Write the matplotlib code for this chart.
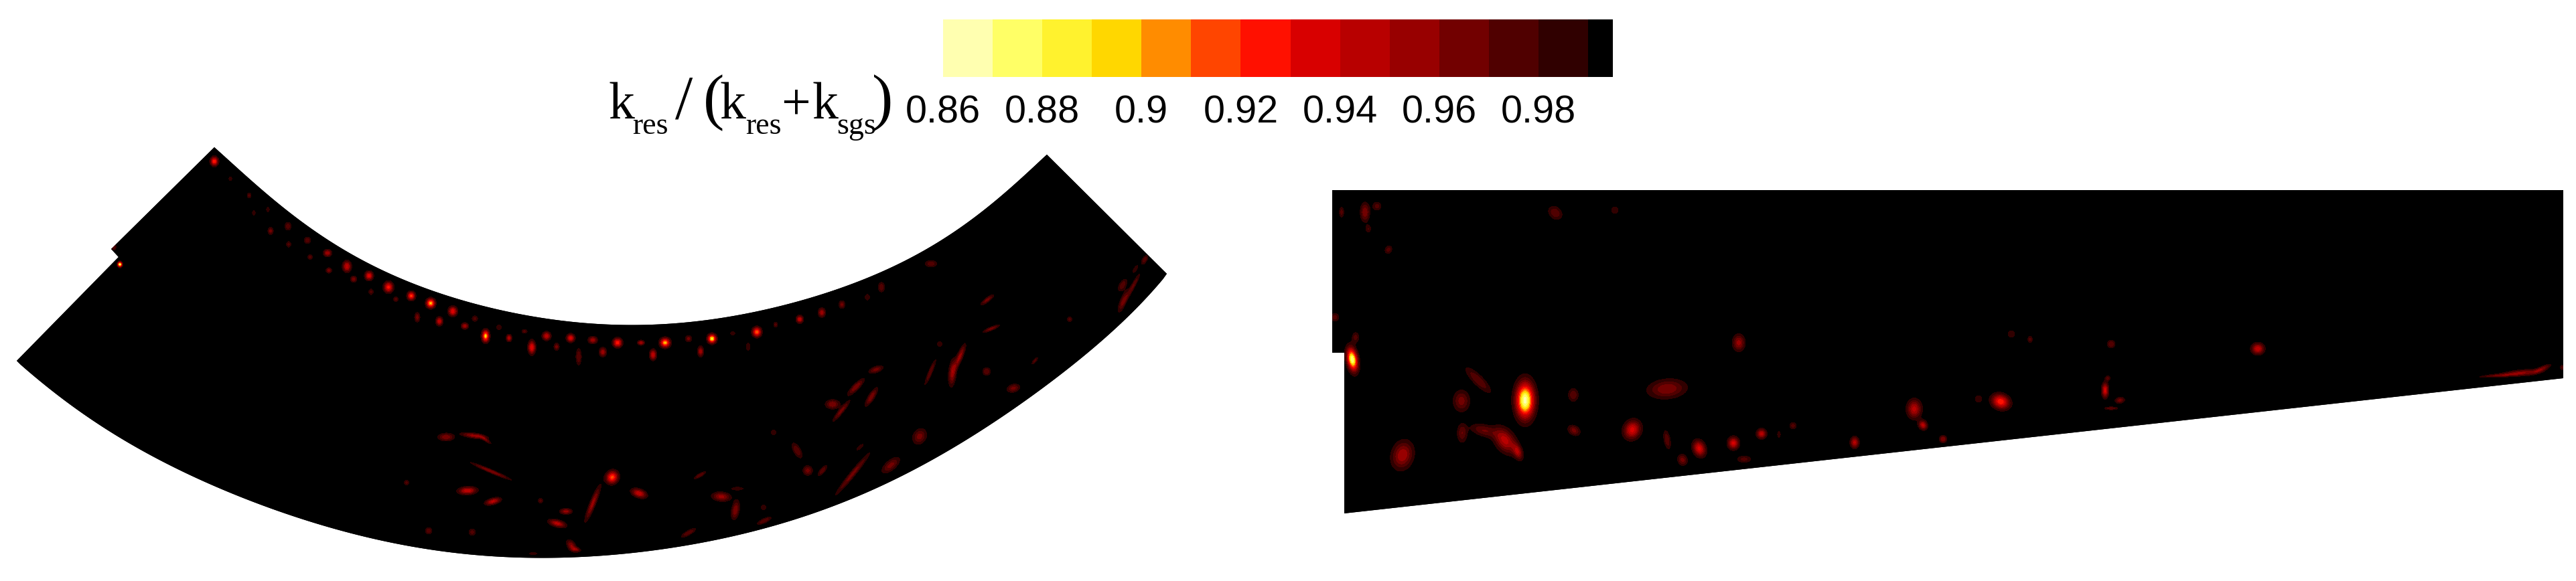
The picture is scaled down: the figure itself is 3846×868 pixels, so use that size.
import numpy as np
import matplotlib
matplotlib.use('Agg')
import matplotlib.pyplot as plt
from matplotlib.colors import ListedColormap, BoundaryNorm
from matplotlib.patches import Polygon

# colorbar
levels = [0.86, 0.87, 0.88, 0.89, 0.90, 0.91, 0.92, 0.93, 0.94, 0.95, 0.96, 0.97, 0.98, 0.99, 0.995]
band_colors = ['#ffffb0', '#ffff66', '#fff22e', '#ffd700', '#ff8c00', '#ff4500', '#ff1000',
               '#d80000', '#b80000', '#980000', '#720000', '#500000', '#300000', '#000000']
tick_values = [0.86, 0.88, 0.90, 0.92, 0.94, 0.96, 0.98]
tick_labels = ['0.86', '0.88', '0.9', '0.92', '0.94', '0.96', '0.98']

# outlines, read in image pixels
bend_inner = [(320, 220), (379, 273), (449, 330), (533, 385), (610, 420), (701, 452), (807, 475), (919, 485),
              (1000, 483), (1102, 472), (1189, 450), (1279, 422), (1386, 370), (1466, 317), (1520, 270), (1563, 231)]
bend_outer = [(25, 539), (61, 572), (107, 605), (168, 647), (240, 688), (316, 725), (398, 757), (490, 787),
              (602, 815), (700, 828), (817, 832), (867, 832), (967, 825), (1033, 815), (1100, 798), (1167, 782),
              (1233, 760), (1283, 740), (1333, 717), (1383, 692), (1433, 665), (1483, 633), (1533, 596),
              (1583, 557), (1630, 523), (1677, 480), (1713, 445), (1742, 409)]
bend_notch = [(177, 384), (166, 372)]
duct_outline = [(1989, 284), (3827, 284), (3827, 565), (2007, 767), (2007, 527), (1989, 527)]

# spots of the field: x, y, half length, half width, angle, depth below 1
bend_row_spots = [
    (320, 241, 7, 6, 90, .08), (344, 267, 2.5, 2, 90, .02), (372, 292, 3.5, 2.5, 90, .025),
    (400, 313, 3, 2, 90, .015), (379, 318, 3, 2, 90, .015), (430, 338, 5, 4, 90, .03),
    (404, 345, 4.5, 3.5, 90, .035), (459, 359, 4, 4, 90, .03), (431, 365, 3.5, 3, 90, .025),
    (489, 378, 5, 5.5, 90, .05), (463, 384, 3, 3, 90, .03), (518, 398, 8, 6, 90, .06),
    (491, 404, 3.5, 4, 90, .035), (551, 412, 6.5, 6, 90, .07), (528, 417, 4, 4, 90, .04),
    (580, 429, 8, 7, 90, .075), (554, 436, 3.5, 3, 90, .025), (614, 442, 6.5, 6, 90, .085),
    (591, 447, 3, 3, 90, .03), (643, 453, 7.5, 7, 90, .105), (676, 465, 7, 6.5, 90, .07),
    (623, 474, 6, 3.5, 90, .035), (656, 480, 6, 5, 90, .06), (709, 476, 3.5, 3.5, 90, .025),
    (694, 487, 4.5, 5, 90, .05), (745, 489, 3, 3, 90, .02), (783, 495, 3.5, 2.5, 0, .025),
    (725, 502, 9.5, 6, 90, .105), (760, 505, 5, 4, 90, .055), (816, 502, 6, 6, 90, .06),
    (852, 505, 6, 6, 90, .065), (885, 508, 5, 6, 90, .05), (794, 519, 10, 5.5, 90, .07),
    (831, 518, 4.5, 3.5, 90, .035), (922, 512, 7, 7, 90, .08), (957, 512, 3.5, 5, 90, .05),
    (900, 526, 6, 5, 90, .05), (993, 512, 7.5, 8, 90, .105), (1028, 506, 4, 4, 90, .035),
    (1063, 506, 7.5, 7, 90, .115), (864, 533, 10, 3.5, 90, .03), (975, 530, 7.5, 5, 90, .06),
    (1046, 525, 7, 4, 90, .05), (1094, 498, 2.5, 3, 90, .02), (170, 369, 4, 3, 90, .03),
    (179, 395, 4.5, 4, 90, .13), (1130, 496, 7.5, 7, 90, .09), (1117, 518, 4.5, 2.5, 90, .02),
    (1158, 485, 3.5, 2.5, 90, .025), (1194, 477, 5, 5.5, 0, .06), (1227, 467, 5, 6, 0, .05),
    (1257, 455, 5, 4, 90, .035), (1295, 444, 3.5, 3, 90, .02), (1316, 429, 6, 4, 90, .03),
]
bend_streaks = [
    (1474, 448, 9.5, 3, -37, .035), (1480, 491, 11, 2.5, -22, .035), (1403, 514, 3, 3, 0, .02),
    (1433, 533, 17, 4, -68, .045), (1422, 557, 17, 5, -85, .045), (1389, 556, 16, 2.5, -67, .03),
    (1308, 552, 9, 4, -18, .035), (1278, 578, 14, 4, -45, .04), (1301, 593, 13, 4, -58, .04),
    (1243, 604, 9, 6, 0, .04), (1256, 614, 16, 3, -51, .035), (1473, 555, 5, 5, 0, .03),
    (1545, 539, 5, 2, -50, .025), (1513, 580, 8, 5, -15, .035), (1597, 477, 3, 3, 0, .025),
    (1676, 426, 8, 4, -60, .03), (1692, 427, 16, 2.5, -62, .03), (1677, 450, 14, 4, -68, .035),
    (1709, 388, 6, 3, -60, .03), (1695, 402, 5, 2, -60, .02), (1390, 394, 7, 4, 0, .03),
    (1373, 652, 10, 8, -60, .035), (1190, 673, 10, 4.5, 60, .03), (1155, 646, 3, 3, 0, .02),
    (1284, 668, 5, 2, -40, .02), (1273, 708, 32, 3.5, -51, .035), (1330, 695, 13, 6, -40, .035),
    (1206, 703, 6, 6, 0, .035), (1228, 703, 8, 3, -50, .03), (1045, 710, 8, 2.5, -30, .03),
    (1101, 730, 7, 2, 0, .02), (1077, 742, 12, 6, 5, .045), (1098, 762, 12, 5, -80, .04),
    (1140, 758, 3, 3, 0, .02), (1141, 778, 9, 3, -25, .03), (1028, 796, 10, 3, -30, .03),
    (666, 653, 10, 5, 0, .04), (708, 651, 17, 3.5, 8, .045), (725, 657, 8, 2, 35, .03),
    (733, 704, 26, 2.5, 23, .04), (607, 721, 3, 3, 0, .025), (698, 733, 13, 5.5, -3, .06),
    (736, 749, 11, 4.5, -15, .055), (807, 748, 3, 3, 0, .025), (914, 713, 10, 9, -60, .085),
    (885, 752, 24, 4, -68, .045), (954, 737, 11, 6, 20, .06), (845, 764, 8, 4, 0, .045),
    (832, 782, 12, 5, 15, .055), (640, 793, 4, 4, 0, .03), (705, 795, 4, 4, 0, .025),
    (853, 815, 8, 5, 55, .04), (860, 821, 6, 3, 10, .035), (796, 827, 5, 1.5, 0, .02),
]
duct_spots = [
    (2019, 537, 20, 9, 80, .13), (2024, 504, 6, 4, 90, .025), (1993, 474, 5, 5, 0, .025),
    (2003, 317, 6, 3, 90, .025), (2038, 317, 12, 6, 90, .04), (2056, 308, 5, 5, 0, .025),
    (2043, 342, 4, 3, 90, .02), (2073, 373, 5, 4, -60, .025), (2322, 318, 9, 7, 40, .03),
    (2411, 314, 4, 4, 0, .02), (2596, 512, 11, 8, 90, .045), (2207, 568, 20, 6, 45, .03),
    (2277, 598, 31, 16, 90, .135), (2182, 599, 13, 10, 90, .035), (2349, 590, 8, 6, 90, .03),
    (2489, 581, 24, 12, -5, .04), (2858, 611, 13, 10, 90, .055), (2871, 635, 7, 6, 60, .055),
    (2901, 656, 5, 5, 0, .04), (2769, 661, 8, 6, 90, .055), (2677, 636, 4, 4, 0, .025),
    (2630, 648, 7, 7, -70, .055), (2588, 662, 9, 8, 90, .065), (2656, 649, 4, 2, 90, .015),
    (2537, 670, 12, 9, 70, .065), (2512, 687, 7, 6, 70, .035), (2604, 686, 8, 4, 0, .025),
    (2489, 657, 11, 4, 80, .03), (2437, 642, 14, 12, -65, .065), (2350, 643, 8, 6, 30, .035),
    (2094, 680, 19, 14, -75, .05), (2183, 647, 11, 6, 90, .03), (2215, 643, 15, 7, 15, .03),
    (2247, 658, 20, 13, 55, .055), (2266, 675, 11, 6, 70, .045), (2954, 596, 4, 4, 0, .02),
    (2987, 600, 14, 11, 20, .08), (3003, 499, 4, 4, 0, .02), (3031, 507, 4, 3, 90, .025),
    (3152, 514, 5, 5, 0, .03), (3371, 521, 9, 8, 0, .06), (3147, 565, 3, 3, 0, .025),
    (3143, 583, 11, 5, 90, .065), (3165, 598, 6, 4, -10, .035), (3152, 610, 8, 2, 0, .03),
    (3730, 561, 22, 2, -4, .03), (3765, 557, 24, 4, -5, .04), (3795, 551, 12, 3, -25, .035),
    (3826, 549, 3, 3, 0, .025),
]

cmap = ListedColormap(band_colors)
cmap.set_under(band_colors[0])
cmap.set_over(band_colors[-1])
norm = BoundaryNorm(levels, cmap.N)


def make_field(spots, x0, x1, y0, y1):
    xx, yy = np.meshgrid(np.arange(x0, x1) + 0.5, np.arange(y0, y1) + 0.5)
    field = np.ones(xx.shape)
    for x, y, length, width, ang, depth in spots:
        # the 0.98-0.99 band is nearly black, so the visible size needs some room
        reach = np.sqrt(2 * np.log(depth / 0.01)) / 1.3
        t = np.radians(ang)
        u = (xx - x) * np.cos(t) + (yy - y) * np.sin(t)
        v = -(xx - x) * np.sin(t) + (yy - y) * np.cos(t)
        field -= depth * np.exp(-0.5 * ((u * reach / length) ** 2 + (v * reach / width) ** 2))
    return field


def smooth_edge(points, deg=9):
    # the edges are read by eye, a fit takes the wobble out of them
    px, py = np.array(points, dtype=float).T
    fit = np.polynomial.Polynomial.fit(px, py, deg)
    xs = np.linspace(px[0], px[-1], 300)
    ys = fit(xs)
    ys[0], ys[-1] = py[0], py[-1]
    return list(zip(xs, ys))


def draw_panel(ax, outline, spots, box):
    x0, x1, y0, y1 = box
    patch = Polygon(outline, closed=True, fc='black', ec='none', zorder=1)
    ax.add_patch(patch)
    im = ax.imshow(make_field(spots, x0, x1, y0, y1), cmap=cmap, norm=norm, extent=(x0, x1, y1, y0),
                   interpolation='bilinear', aspect='auto', zorder=2)
    im.set_clip_path(patch)


fig = plt.figure(figsize=(38.46, 8.68), dpi=100, facecolor='white')
ax = fig.add_axes([0, 0, 1, 1])

bend_outline = smooth_edge(bend_inner) + smooth_edge(bend_outer)[::-1] + bend_notch
draw_panel(ax, bend_outline, bend_row_spots + bend_streaks, (0, 1760, 210, 850))
draw_panel(ax, duct_outline, duct_spots, (1980, 3840, 275, 775))
ax.set_xlim(0, 3846)
ax.set_ylim(868, 0)
ax.axis('off')

# colorbar along the top
cax = fig.add_axes([1408 / 3846, 1 - 115 / 868, 1000 / 3846, 86 / 868])
cax.pcolormesh(levels, [0, 1], np.array([[(a + b) / 2 for a, b in zip(levels[:-1], levels[1:])]]), cmap=cmap, norm=norm)
cax.set_xlim(levels[0], levels[-1])
cax.set_yticks([])
cax.set_xticks(tick_values)
cax.set_xticklabels(tick_labels, fontfamily='Liberation Sans', fontsize=41.5)
cax.tick_params(axis='x', length=0, pad=19)
for s in cax.spines.values():
    s.set_visible(False)

# label is put together piece by piece like in the original
big = dict(fontfamily='Liberation Serif', fontsize=56, color='black', va='baseline', ha='left')
tall = dict(fontfamily='Liberation Serif', fontsize=68, color='black', va='baseline', ha='left', fontweight='light')
small = dict(fontfamily='Liberation Serif', fontsize=33, color='black', va='baseline', ha='left')
ax.text(908, 177, 'k', **big)
ax.text(944, 200, 'res', **small)
ax.text(1008, 176, '/', **tall)
ax.text(1050, 176, '(', **tall)
ax.text(1075, 177, 'k', **big)
ax.text(1113, 200, 'res', **small)
ax.text(1166, 177, '+', **big)
ax.text(1212, 177, 'k', **big)
ax.text(1249, 200, 'sgs', **small)
ax.text(1302, 176, ')', **tall)

fig.savefig('out.png', dpi=100, facecolor='white')
